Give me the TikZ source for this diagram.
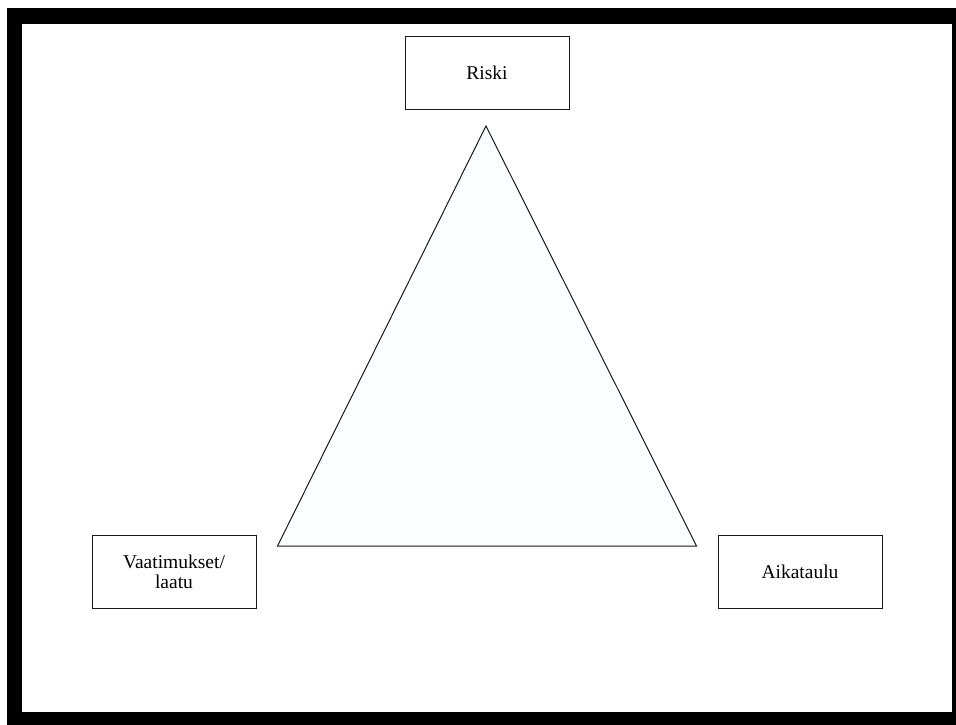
\documentclass[tikz,border=0pt]{standalone}
\usepackage{fontspec}
\setmainfont{Liberation Serif}
\usepackage{tikz}
\definecolor{trifill}{RGB}{251,254,254}
\definecolor{boxline}{RGB}{25,25,25}
\tikzset{
  label box/.style={draw=boxline, line width=1pt, fill=white, minimum width=164pt,
    minimum height=73pt, inner sep=0pt, align=center, font=\fontsize{19.5}{20}\selectfont},
  side/.style={draw=boxline, line width=1pt, line join=miter}
}
\begin{document}
\begin{tikzpicture}[x=1pt,y=-1pt]
  \useasboundingbox (0,0) rectangle (956,724);
  \clip (0,0) rectangle (956,724);
  % outer frame
  \fill[black] (7,8) rectangle (960,730);
  \fill[white] (22,24) rectangle (952,712);

  % triangle
  \coordinate (top) at (486,126);
  \coordinate (bl) at (277.5,546);
  \coordinate (br) at (696.5,546);
  \filldraw[side, fill=trifill] (top) -- (br) -- (bl) -- cycle;

  % labels
  \node[label box] (riski) at (487,72.5) {Riski};
  \node[label box] (vaat) at (174,571.5) {Vaatimukset/\\laatu};
  \node[label box] (aika) at (800,571.5) {Aikataulu};
\end{tikzpicture}
\end{document}
